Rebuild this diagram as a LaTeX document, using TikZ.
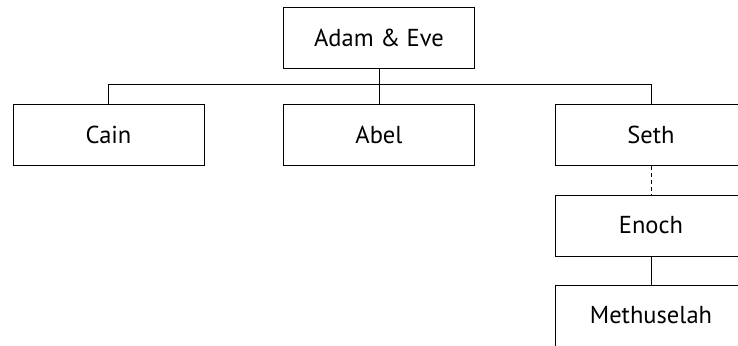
\documentclass[tikz,border=0pt]{standalone}
\usepackage{fontspec}
\setmainfont{PT Sans}
\tikzset{
  person/.style={draw,thick,minimum width=191pt,minimum height=61pt,inner sep=0pt,font=\fontsize{24.5}{28}\selectfont},
  link/.style={thick},
}
\begin{document}
\begin{tikzpicture}[x=1pt,y=1pt]
        %frame
        \useasboundingbox (0,0) rectangle (738,-345);
        \clip (0,0) rectangle (738,-345);
        
        %parents
        \node[person] (adam) at (379,-38) {Adam \& Eve};
        \coordinate (bus) at (0,-84);
        
        %children
        \node[person] (cain) at (108.5,-135) {Cain};
        \node[person] (abel) at (379,-135) {Abel};
        \node[person] (seth) at (651,-135) {Seth};
        
        %descendants
        \node[person] (enoch) at (651,-225.5) {Enoch};
        \node[person] (methuselah) at (651,-315.5) {Methuselah};
        
        \draw[link] (adam.south) -- (adam |- bus);
        \draw[link] (cain.north) -- (cain |- bus) -- (seth |- bus) -- (seth.north);
        \draw[link] (abel.north) -- (abel |- bus);
        \draw[link,dash pattern=on 4pt off 3pt] (seth.south) -- (enoch.north);
        \draw[link] (enoch.south) -- (methuselah.north);
        
    \end{tikzpicture}
\end{document}
